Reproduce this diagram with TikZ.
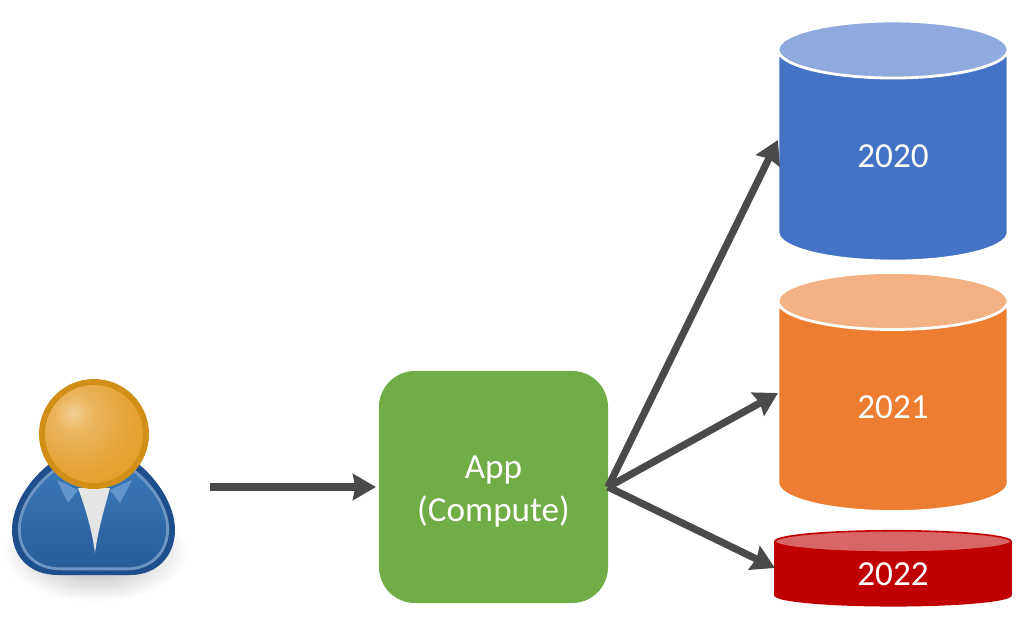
\documentclass[tikz,border=0pt]{standalone}
\usepackage{fontspec}
\setmainfont{Carlito}
\usepackage{tikz}
\usetikzlibrary{arrows.meta}
\usetikzlibrary{shapes.geometric}

\definecolor{arrowgray}{HTML}{4A4A4A}
\definecolor{appgreen}{HTML}{70AD47}
\definecolor{dbblue}{HTML}{4472C4}
\definecolor{dbbluetop}{HTML}{8FAADC}
\definecolor{dborange}{HTML}{ED7D31}
\definecolor{dborangetop}{HTML}{F4B183}
\definecolor{dbred}{HTML}{C00000}
\definecolor{dbredtop}{HTML}{D96666}
\definecolor{userdark}{HTML}{1F4E8C}
\definecolor{usertop}{HTML}{3A78B8}
\definecolor{userlow}{HTML}{285C9A}
\definecolor{userring}{HTML}{6F96C4}
\definecolor{usercollar}{HTML}{6496CD}
\definecolor{headrim}{HTML}{D18F18}
\definecolor{headhi}{HTML}{F0CF93}
\definecolor{headmid}{HTML}{EBB45C}
\definecolor{headlow}{HTML}{E6A335}
\definecolor{headout}{HTML}{E39A20}

\pgfdeclareradialshading{headshade}{\pgfpoint{-11bp}{11bp}}{%
  color(0bp)=(headhi); color(10bp)=(headmid); color(28bp)=(headlow); color(50bp)=(headout); color(100bp)=(headout)}

\tikzset{
  dbtext/.style={text=white,font=\fontsize{25}{30.6}\selectfont},
  database/.style={cylinder,shape border rotate=90,cylinder uses custom fill,
    inner sep=0pt,outer sep=0pt,dbtext},
}

\def\userbody{(52,462) .. controls (30,478) and (12,505) .. (12,530)
  .. controls (12,555) and (28,575) .. (58,575) -- (130,575)
  .. controls (158,575) and (175,555) .. (175,530)
  .. controls (175,505) and (157,478) .. (136,462) -- cycle}

\begin{document}
\begin{tikzpicture}[x=0.025cm,y=-0.025cm]
	\useasboundingbox (0,0) rectangle (1024,636);

	% user
	\shade[inner color=black!35,outer color=white] (95,552) ellipse (92 and 50);
	\fill[userdark] \userbody;
	\begin{scope}[shift={(93.5,524)},xscale=0.91,yscale=0.88,shift={(-93.5,-524)}]
		\shade[top color=usertop,bottom color=userlow] \userbody;
		\draw[userring,line width=0.07cm] \userbody;
	\end{scope}
	\fill[usercollar] (57,480) -- (78,490) -- (68,503) -- cycle;
	\fill[usercollar] (132,480) -- (110,490) -- (120,503) -- cycle;
	\fill[black!10] (78,488) -- (110,488) .. controls (104,510) and (98,530) .. (95,553) .. controls (92,530) and (86,510) .. (78,488) -- cycle;
	\fill[headrim] (94,434) circle (55);
	\shade[shading=headshade] (94,434) circle (49);
	\coordinate (userout) at (210,487);

	% app and data stores
	\node[draw=none,fill=appgreen,rounded corners=0.9cm,minimum width=5.725cm,minimum height=5.8cm,
	      inner sep=0pt,outer sep=0pt] (app) at (493.5,487) {};
	\node[align=center,dbtext] (applabel) at (493.5,492) {App\\(Compute)};
	\node[database,draw=white,line width=0.07cm,aspect=0.8,minimum width=5.75cm,minimum height=6cm,
	      cylinder body fill=dbblue,cylinder end fill=dbbluetop] (db2020) at (893,156) {2020};
	\node[database,draw=white,line width=0.07cm,aspect=0.8,minimum width=5.75cm,minimum height=5.975cm,
	      cylinder body fill=dborange,cylinder end fill=dborangetop] (db2021) at (893,407) {2021};
	\node[database,draw=dbred,line width=0.04cm,aspect=0.3,minimum width=5.9cm,minimum height=1.875cm,
	      cylinder body fill=dbred,cylinder end fill=dbredtop] (db2022) at (893,574) {2022};

	\begin{scope}[>={Stealth[length=0.575cm,width=0.65cm,inset=0.06cm]},
	              every edge/.style={draw=arrowgray,line width=0.18cm,->}]
		\path (userout) edge[shorten >=0.075cm] (app.west);
		\path (app.east) edge ([yshift=0.4cm]db2020.west);
		\path (app.east) edge ([yshift=0.35cm]db2021.west);
		\path (app.east) edge ([yshift=0.15cm]db2022.west);
	\end{scope}
\end{tikzpicture}
\end{document}
